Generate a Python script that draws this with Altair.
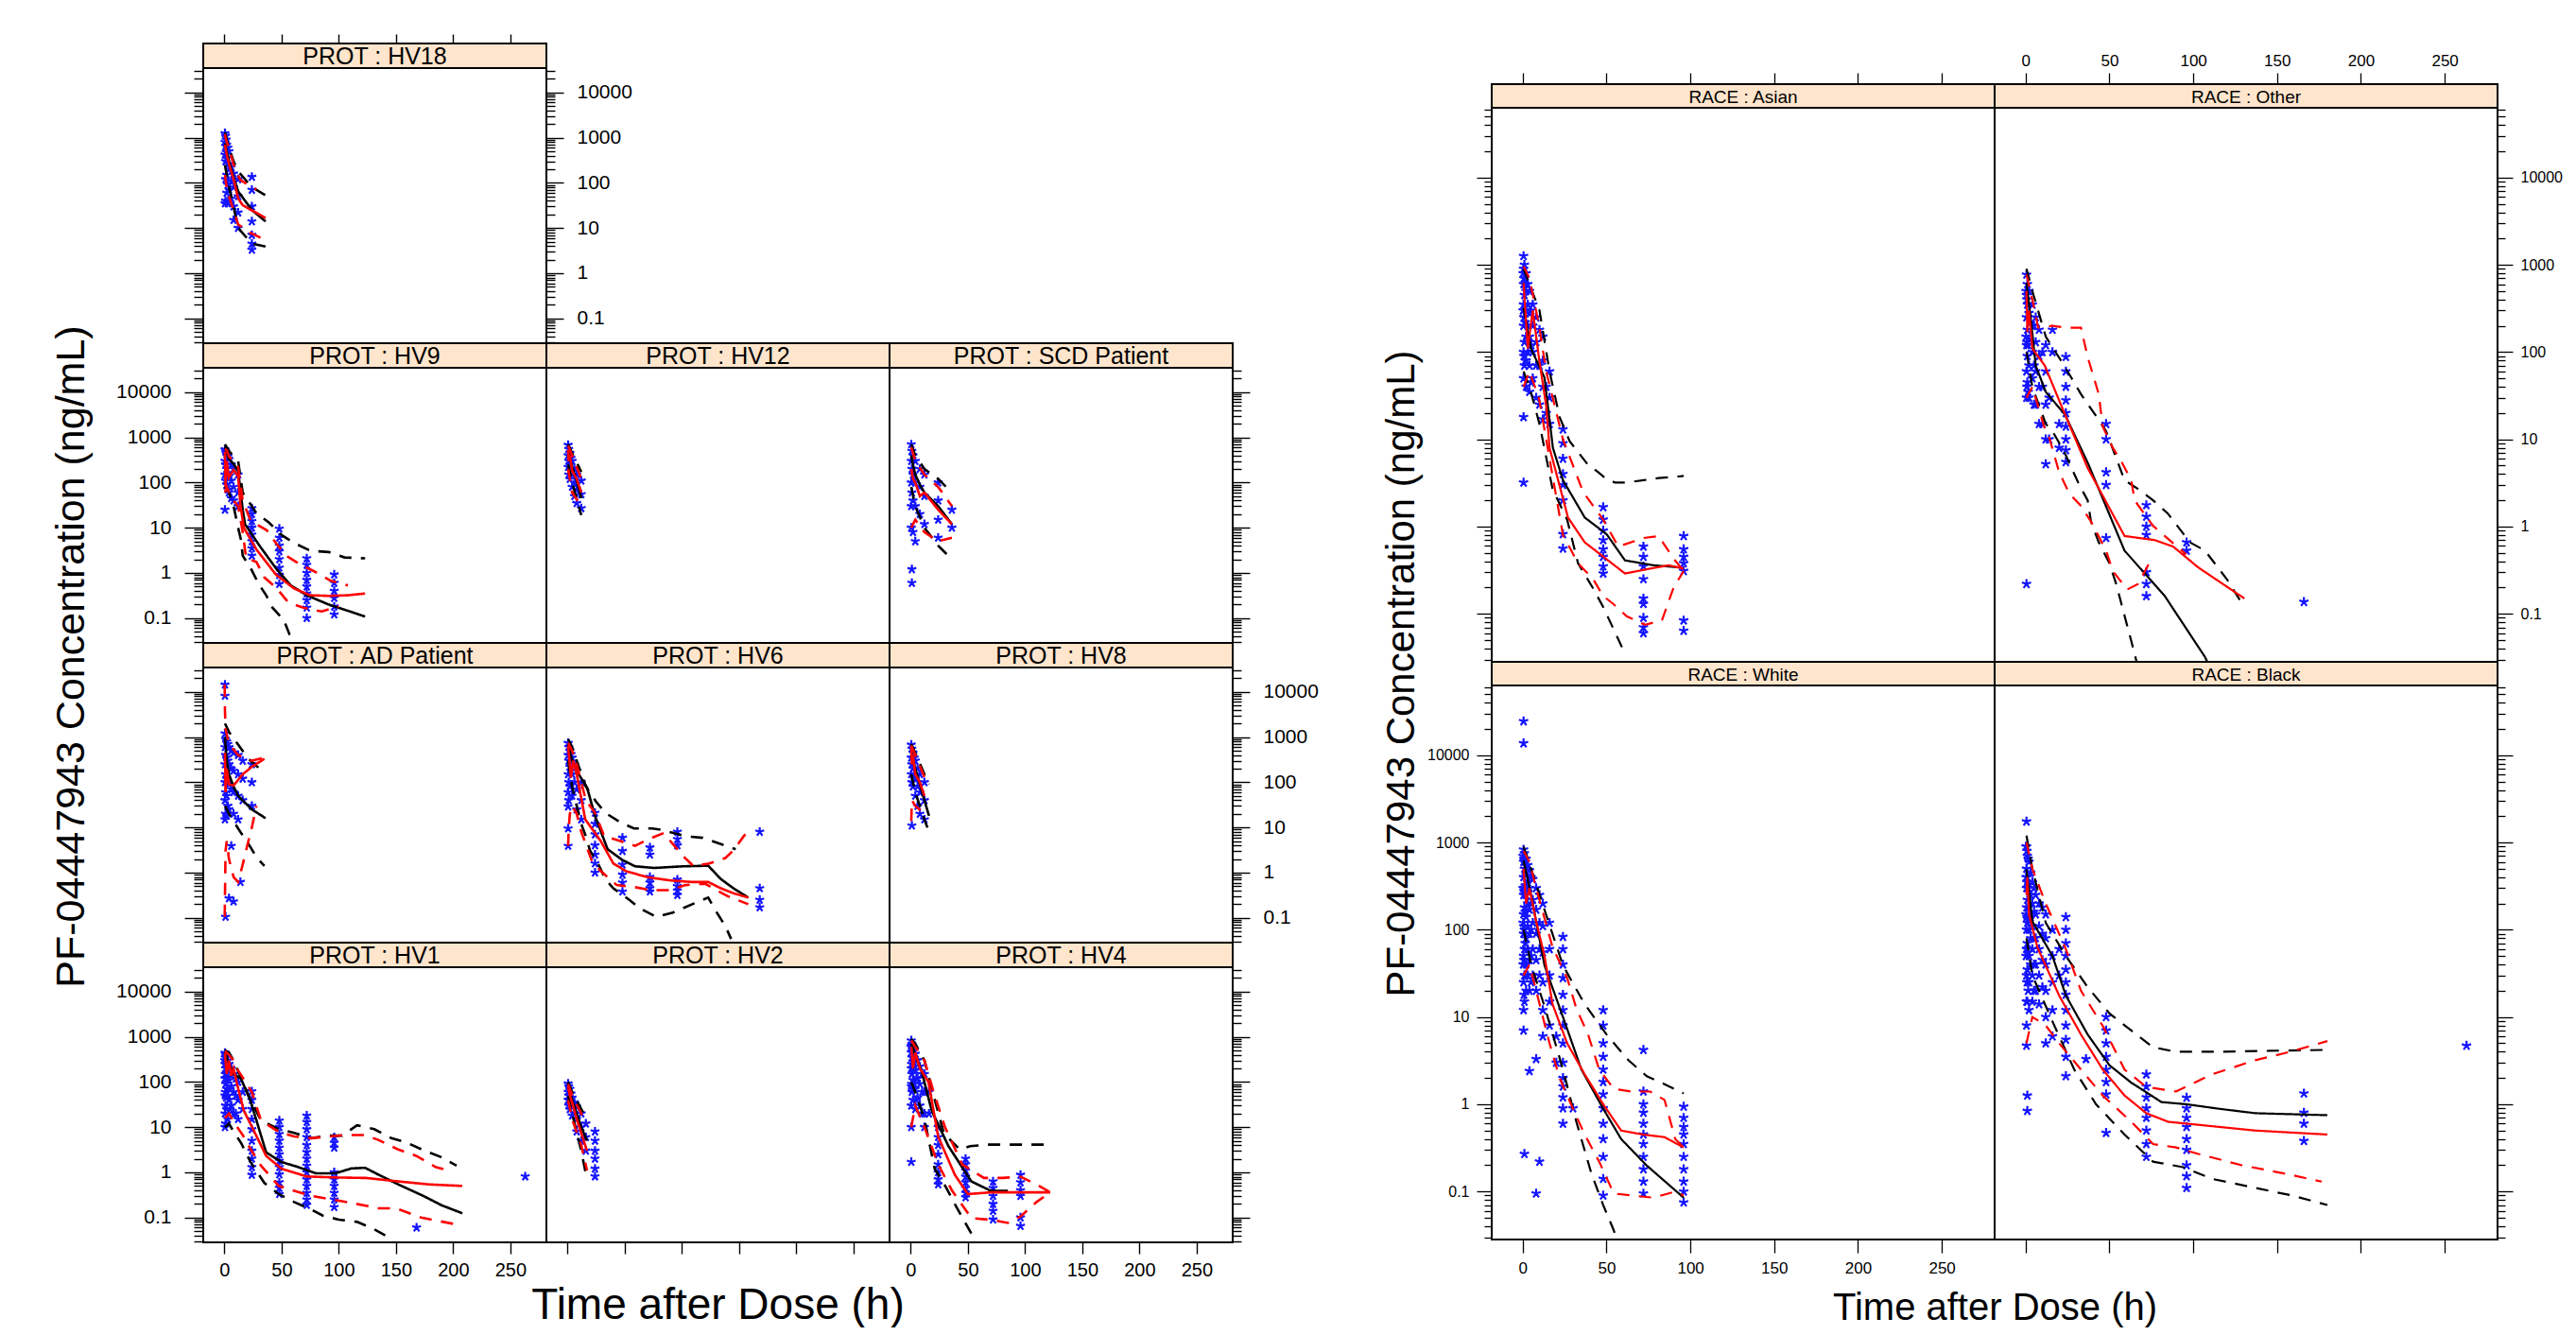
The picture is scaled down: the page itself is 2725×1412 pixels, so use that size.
import altair as alt
import pandas as pd

FONT = "Liberation Sans"
BLUE = "#1414FF"
STRIP_FILL = "#FFE5CC"
STAR = "M0,0L0,-1M0,0L0.95,-0.31M0,0L0.59,0.81M0,0L-0.59,0.81M0,0L-0.95,-0.31"

X_DOMAIN = [-18.5, 281.5]
X_TICKS = [0, 50, 100, 150, 200, 250]
Y_MAJOR = [0.1, 1, 10, 100, 1000, 10000]
Y_DOMAIN_L = [0.0282, 34700]
Y_DOMAIN_R = [0.0282, 63000]
Y_MINOR_L = [0.03, 0.04, 0.05, 0.06, 0.07, 0.08, 0.09,
             0.2, 0.3, 0.4, 0.5, 0.6, 0.7, 0.8, 0.9,
             2, 3, 4, 5, 6, 7, 8, 9,
             20, 30, 40, 50, 60, 70, 80, 90,
             200, 300, 400, 500, 600, 700, 800, 900,
             2000, 3000, 4000, 5000, 6000, 7000, 8000, 9000,
             20000, 30000]
Y_MINOR_R = Y_MINOR_L + [40000, 50000, 60000]

SERIES = ["p05p", "p50p", "p95p", "p05o", "p50o", "p95o"]
SERIES_COLORS = ["black", "black", "black", "#FF0000", "#FF0000", "#FF0000"]

# ---------------- PROT panels ----------------
HV18_OBS = [(0.5,1250),(0.5,800),(0.5,420),(0.5,35),(1,1100),(1,650),(1,300),(1,120),(1,40),(1.5,900),(1.5,480),
            (2,700),(2,350),(2,150),(2,60),(3,600),(3,260),(3,90),(3,35),(4,500),(4,200),(4,70),
            (6,220),(6,110),(6,45),(8,160),(8,80),(8,30),(8,15),(12,120),(12,50),(12,22),(12,10),
            (24,135),(24,70),(24,30),(24,14),(24,7),(24,4.5),(24,3.3)]
HV18_LINES = {
    "p05p": [(0.5,250),(2,150),(4,80),(8,30),(12,10),(24,4.5),(36,3.9)],
    "p50p": [(0.5,750),(2,500),(4,300),(8,130),(12,65),(24,25),(36,14)],
    "p95p": [(0.5,1300),(2,900),(4,600),(8,300),(12,180),(24,80),(36,53)],
    "p05o": [(0.5,150),(1,120),(2,80),(4,50),(8,25),(12,12),(22,8),(36,5.4)],
    "p50o": [(0.5,700),(1,600),(2,420),(4,260),(8,120),(12,45),(16,32),(36,16.7)],
    "p95o": [(0.5,1200),(1,1000),(2,800),(4,600),(8,250),(14,115),(28,71)],
}

HV9_OBS = [(0.5,540),(0.5,300),(0.5,150),(0.5,25),(1,480),(1,250),(1,110),(2,420),(2,200),(2,90),
           (3,380),(3,160),(3,70),(4,330),(4,140),(4,60),(6,250),(6,110),(6,45),(8,200),(8,80),(8,40),
           (12,150),(12,60),(12,30),
           (24,27),(24,20),(24,14),(24,10),(24,7),(24,5),(24,3.5),(24,2.4),
           (48,9.5),(48,6),(48,4),(48,3),(48,2),(48,1.3),(48,0.9),(48,0.57),
           (72,2.1),(72,1.5),(72,1),(72,0.7),(72,0.5),(72,0.35),(72,0.25),(72,0.17),(72,0.1),
           (96,0.92),(96,0.6),(96,0.4),(96,0.28),(96,0.18),(96,0.12)]
HV9_LINES = {
    "p05p": [(0.5,80),(4,60),(8,30),(12,10),(14.5,5.4),(16,2.4),(23,1.27),(30,0.57),(36.5,0.32),(42,0.17),(52,0.09),(57,0.043),(61,0.031)],
    "p50p": [(0.5,620),(2,450),(4,330),(8,260),(12,180),(16,25),(18,12),(31,3.9),(45,1.27),(58,0.53),(72,0.32),(91,0.2),(108,0.145),(123,0.108)],
    "p95p": [(0.5,700),(4,500),(8,380),(12,300),(16,60),(28,21),(39,13),(50,6.9),(61,4.6),(75,3.1),(91,2.9),(105,2.2),(123,2.1)],
    "p05o": [(0.5,60),(2,80),(4,60),(8,40),(12,30),(16,8),(19,2.1),(28,1.75),(35,0.79),(45,0.48),(56,0.22),(69,0.17),(85,0.14),(100,0.18)],
    "p50o": [(0.5,480),(1,80),(2,300),(4,130),(8,190),(12,140),(14,32),(17,10),(28,3.3),(45,0.92),(61,0.45),(75,0.32),(91,0.31),(108,0.32),(123,0.35)],
    "p95o": [(0.5,560),(2,520),(4,380),(8,300),(12,220),(16,40),(23,14),(37,8.8),(45,4.6),(54,2.4),(67,1.5),(78,1.1),(93,0.67),(108,0.53)],
}

HV12_OBS = [(0.5,680),(0.5,400),(0.5,220),(1,550),(1,300),(1,150),(2,450),(2,250),(2,120),(3,350),(3,180),
            (4,300),(4,150),(4,80),(6,200),(6,100),(6,50),(8,150),(8,70),(8,35),(12,110),(12,55),(12,27)]
HV12_LINES = {
    "p05p": [(0.5,250),(4,100),(12,19)],
    "p50p": [(0.5,500),(2,350),(4,220),(8,110),(12,45)],
    "p95p": [(0.5,700),(4,450),(12,172)],
    "p05o": [(0.5,200),(4,60),(12,30)],
    "p50o": [(0.5,530),(1,300),(2,400),(4,180),(8,120),(12,60)],
    "p95o": [(0.5,650),(4,400),(12,120)],
}

SCD_OBS = [(0.5,700),(0.5,300),(0.5,100),(0.5,30),(0.5,10),(1,500),(1,200),(1,60),(1,1.2),(1,0.6),
           (2,400),(2,150),(2,40),(2,8),(4,300),(4,100),(4,30),(4,5),(8,200),(8,80),(8,20),
           (12,150),(12,50),(12,12),(24,100),(24,40),(24,15),(24,6),(36,25),(36,10)]
SCD_LINES = {
    "p05p": [(0.5,80),(4,30),(12,10),(24,4),(36,2)],
    "p50p": [(0.5,400),(2,250),(4,150),(8,90),(12,60),(24,30),(36,12)],
    "p95p": [(0.5,700),(4,400),(12,200),(24,120),(36,60)],
    "p05o": [(0.5,10),(4,15),(12,8),(24,5),(36,6)],
    "p50o": [(0.5,200),(2,120),(4,100),(8,50),(12,60),(24,25),(36,12)],
    "p95o": [(0.5,600),(4,300),(12,150),(24,80),(36,30)],
}

AD_OBS = [(0.5,14500),(0.5,8200),(0.5,1200),(0.5,600),(0.5,250),(0.5,100),(0.5,40),(0.5,15),
          (1,900),(1,400),(1,150),(1,60),(1,20),(1,0.105),(2,800),(2,350),(2,120),(2,50),(2,18),
          (3,700),(3,300),(3,100),(3,30),(4,600),(4,250),(4,90),(4,25),(4,0.27),
          (6,500),(6,200),(6,70),(6,3.9),(8,450),(8,180),(8,60),(8,20),(8,0.23),
          (12,400),(12,150),(12,50),(12,15),(14,0.62),(16,300),(16,120),(16,40),(24,250),(24,100),(24,30)]
AD_LINES = {
    "p05p": [(0.5,30),(4,20),(12,9.5),(23,3.6),(28,2.2),(35,1.4)],
    "p50p": [(0.5,1000),(2,300),(4,150),(8,80),(12,50),(24,25),(36,16)],
    "p95p": [(0.5,2000),(4,1300),(12,680),(21,330),(35,160)],
    "p05o": [(0.25,0.105),(0.5,0.3),(1,3),(2,5),(4,2),(8,0.8),(12,0.62),(16,1.5),(20,4),(24,10),(28,30)],
    "p50o": [(0.5,450),(1,60),(2,200),(4,90),(8,85),(16,150),(24,220),(35,330)],
    "p95o": [(0.25,14500),(0.5,3700),(1,1500),(4,700),(12,400),(24,300),(35,350)],
}

HV6_OBS = [(0.5,740),(0.5,400),(0.5,150),(0.5,60),(0.5,29),(0.5,9.5),(0.5,3.9),(1,600),(1,300),(1,100),(1,40),
           (2,500),(2,220),(2,80),(3,420),(3,180),(4,350),(4,150),(4,50),(6,250),(6,100),(8,180),(8,70),(8,25),
           (12,100),(12,40),(12,15),
           (24,21),(24,12),(24,7),(24,4),(24,2.5),(24,1.6),(24,1),
           (48,5.9),(48,3),(48,1.5),(48,0.9),(48,0.6),(48,0.38),
           (72,3.6),(72,2.5),(72,0.8),(72,0.6),(72,0.45),(72,0.38),
           (96,8),(96,5.5),(96,4),(96,0.7),(96,0.5),(96,0.4),(96,0.32),
           (168,8),(168,0.45),(168,0.25),(168,0.17)]
HV6_LINES = {
    "p05p": [(0.5,300),(4,80),(8,30),(11.4,13),(15.5,6.9),(19.6,3.1),(27.8,1.38),(33,0.72),(40,0.45),(54,0.25),(63.5,0.16),(77.5,0.105),(92,0.13),(109,0.2),(123,0.28),(129,0.15),(138,0.065),(143,0.034)],
    "p50p": [(0.5,680),(4,300),(10,147),(17,77),(24,18),(35,3.3),(48,1.9),(59,1.38),(76,1.27),(101,1.38),(123,1.42),(134,0.72),(145,0.45),(158,0.28)],
    "p95p": [(0.5,900),(4,600),(8,300),(16,80),(25,37),(33,21),(46,13),(58,9.5),(74,9.5),(83,8.8),(103,6.4),(118,5.9),(134,4.3),(147,3.3)],
    "p05o": [(0.5,3.9),(1,9.5),(2,20),(4,30),(8,20),(12,8),(21,1.9),(29,1.08),(43,0.53),(58,0.48),(73,0.41),(90,0.41),(103,0.53),(120,0.57),(140,0.3),(158,0.2)],
    "p50o": [(0.5,630),(3,126),(5,300),(8,150),(15.5,15),(29,5),(40,1.6),(51,1.08),(70,0.79),(90,0.67),(109,0.62),(123,0.62),(134,0.45),(145,0.35),(158,0.28)],
    "p95o": [(0.5,740),(4,500),(8,250),(16,40),(24,21),(32,6.4),(46,5),(59,3.9),(70,5.4),(84,7.5),(92,4.3),(102,2.2),(110,1.4),(124,1.6),(138,2.1),(146,3.3),(154,6.4),(158,8.1)],
}

HV8_OBS = [(0.5,680),(0.5,350),(0.5,150),(1,550),(1,250),(1,100),(1,11),(2,450),(2,200),(2,80),(3,350),(3,150),
           (4,300),(4,120),(4,50),(6,200),(6,80),(6,30),(8,150),(8,60),(8,20),(12,100),(12,40),(12,15)]
HV8_LINES = {
    "p05p": [(0.5,150),(4,60),(12,15),(16,8)],
    "p50p": [(0.5,500),(2,300),(4,200),(8,90),(12,40),(16,18)],
    "p95p": [(0.5,700),(4,450),(12,150),(16,90)],
    "p05o": [(0.5,14),(1,40),(4,30),(12,20)],
    "p50o": [(0.5,630),(1,250),(2,400),(4,150),(8,100),(12,50)],
    "p95o": [(0.5,650),(4,400),(12,130)],
}

HV1_OBS = [(0.5,440),(0.5,250),(0.5,120),(0.5,50),(0.5,20),(0.5,10),(1,400),(1,200),(1,90),(1,30),(1,12),
           (0.25,300),(0.75,350),(0.75,150),(0.75,60),(1.5,280),(1.5,120),(1.5,45),
           (2,350),(2,160),(2,70),(2,25),(3,300),(3,130),(3,50),(3,15),(4,250),(4,110),(4,40),
           (5,180),(5,70),(5,25),(6,200),(6,80),(6,30),(8,150),(8,60),(8,20),(10,120),(10,50),(10,20),
           (12,100),(12,40),(12,15),(16,60),(16,25),
           (24,62),(24,40),(24,25),(24,15),(24,9),(24,5),(24,3),(24,2),(24,1.3),(24,0.88),
           (48,14),(48,10),(48,7),(48,5),(48,3.5),(48,2.5),(48,1.8),(48,1.3),(48,0.9),(48,0.6),(48,0.45),(48,0.33),
           (72,18),(72,13),(72,9),(72,6),(72,4),(72,2.8),(72,2),(72,1.4),(72,1),(72,0.7),(72,0.5),(72,0.35),(72,0.25),(72,0.19),
           (96,6),(96,4.5),(96,3.5),(96,1),(96,0.7),(96,0.5),(96,0.35),(96,0.25),(96,0.17),
           (168,0.06),(263,0.81)]
HV1_LINES = {
    "p05p": [(0.5,10),(4,12),(8,8),(14.5,4.5),(22.8,1.7),(35,0.58),(47.5,0.33),(61,0.22),(76,0.15),(86,0.11),(100,0.09),(116,0.08),(131,0.055),(144,0.036)],
    "p50p": [(0.5,470),(4,250),(8,150),(14.5,118),(23,37),(36.5,2.75),(50,1.69),(64,1.32),(80,0.95),(97,0.95),(111,1.22),(123,1.26),(135,0.88),(152,0.54),(174,0.3),(190,0.186),(208,0.124)],
    "p95p": [(0.5,500),(4,450),(8,300),(14.5,120),(23,40),(32,14),(47.5,9),(61,7.5),(76,5.7),(90,6.5),(103,6.5),(116,11),(131,9),(146,5.7),(160,4.5),(175,3),(189,2.2),(203,1.4)],
    "p05o": [(0.5,16),(4,20),(9,12),(16,6.7),(23,3.2),(32,1.4),(47.5,0.5),(61,0.39),(76,0.3),(91,0.26),(111,0.21),(135,0.16),(150,0.16),(172,0.1),(203,0.07)],
    "p50o": [(0.5,430),(2,150),(4,300),(6,138),(8,200),(12,72),(17,23),(25.5,8.6),(36.5,2.3),(50,1.2),(72,0.81),(97,0.77),(124,0.75),(152,0.63),(179,0.54),(208,0.5)],
    "p95o": [(0.5,480),(4,400),(8,300),(12,180),(24,60),(32,14),(47.5,7.9),(61,6.2),(76,5.7),(91,6.2),(105,6.7),(122,6.7),(134,5.3),(152,3.2),(168,2.3),(185,1.3),(196,1.1)],
}

HV2_OBS = [(0.5,92),(0.5,60),(0.5,40),(1,80),(1,50),(1,30),(2,70),(2,40),(2,25),(3,55),(3,35),(4,45),(4,28),(4,18),
           (6,35),(6,20),(8,28),(8,15),(8,8),(12,20),(12,10),(12,5),(16,12),(16,6),(16,3),
           (24,8),(24,5),(24,3),(24,2),(24,1.2),(24,0.81)]
HV2_LINES = {
    "p05p": [(0.5,50),(4,20),(12,3),(17,0.69)],
    "p50p": [(0.5,92),(2,60),(4,40),(8,20),(12,10),(17,5)],
    "p95p": [(0.5,100),(4,60),(12,25),(17,15)],
    "p05o": [(0.5,40),(4,15),(12,4),(17,1.1)],
    "p50o": [(0.5,78),(2,50),(4,35),(8,15),(12,7.3),(17,3)],
    "p95o": [(0.5,90),(4,50),(12,20),(17,12)],
}

HV4_OBS = [(0.5,830),(0.5,450),(0.5,200),(0.5,80),(0.5,30),(0.5,10),(0.5,1.7),(1,700),(1,350),(1,150),(1,60),
           (0.25,600),(0.75,650),(0.75,250),(0.75,90),(1.5,550),(1.5,200),(1.5,70),
           (2,600),(2,280),(2,110),(2,40),(3,500),(3,220),(3,90),(4,420),(4,180),(4,70),(4,25),
           (5,300),(5,120),(5,40),(6,300),(6,120),(6,45),(8,220),(8,90),(8,30),(10,150),(10,60),(10,20),
           (12,150),(12,60),(12,20),(12,10),(16,60),(16,20),
           (24,10),(24,6),(24,4),(24,2.5),(24,1.5),(24,1),(24,0.7),(24,0.54),
           (48,2),(48,1.5),(48,1.1),(48,0.8),(48,0.6),(48,0.45),(48,0.35),(48,0.28),
           (72,0.63),(72,0.45),(72,0.3),(72,0.2),(72,0.14),(72,0.09),
           (96,0.88),(96,0.6),(96,0.4),(96,0.3),(96,0.1),(96,0.065)]
HV4_LINES = {
    "p05p": [(0.5,100),(4,60),(12,15),(21,1.2),(31,0.46),(40,0.17),(54,0.04)],
    "p50p": [(0.5,710),(4,400),(9.8,163),(18.4,23),(33,3.8),(53,0.63),(70,0.39),(85,0.39)],
    "p95p": [(0.5,900),(4,700),(12,300),(20,50),(29,7.3),(37,4.5),(43,3.2),(52,3.8),(67,4.1),(86,4.1),(122,4.1)],
    "p05o": [(0.5,10),(4,30),(12,10),(24,1.5),(36,0.4),(53,0.097),(70,0.089),(85,0.076),(96,0.105),(110,0.22),(122,0.36)],
    "p50o": [(0.5,600),(2,200),(4,450),(8,200),(15.5,100),(24,6.2),(38.6,0.88),(50,0.33),(70,0.36),(96,0.36),(122,0.36)],
    "p95o": [(0.5,830),(4,600),(12,300),(20,60),(30,10),(45,1.5),(64,0.75),(80,0.75),(96,0.8),(110,0.54),(122,0.36)],
}

# ---------------- RACE panels ----------------
ASIAN_OBS = [(0.5,1260),(0.5,900),(0.5,600),(0.5,350),(0.5,200),(0.5,100),(0.5,50),(0.5,18),(0.5,3.2),
             (0.25,800),(0.25,300),(0.75,700),(0.75,250),(0.75,90),(1.5,600),(1.5,220),(1.5,80),
             (1,1000),(1,700),(1,450),(1,250),(1,130),(1,70),(2,800),(2,500),(2,300),(2,150),(2,80),(2,40),
             (3,600),(3,350),(3,200),(3,100),(4,500),(4,280),(4,150),(4,70),(4,35),
             (5,300),(5,120),(5,45),(6,350),(6,200),(6,100),(6,50),(8,250),(8,130),(8,70),(8,30),
             (10,180),(10,70),(10,25),(12,150),(12,80),(12,40),(12,17),(14,40),(14,20),
             (16,60),(16,30),(16,15),
             (24,13),(24,9),(24,6),(24,4),(24,3),(24,2),(24,0.82),(24,0.56),
             (48,1.67),(48,1.2),(48,0.9),(48,0.7),(48,0.55),(48,0.45),(48,0.35),(48,0.29),
             (72,0.59),(72,0.45),(72,0.35),(72,0.25),(72,0.15),(72,0.13),(72,0.09),(72,0.07),(72,0.06),
             (96,0.78),(96,0.55),(96,0.45),(96,0.38),(96,0.31),(96,0.084),(96,0.064)]
ASIAN_LINES = {
    "p05p": [(0.5,60),(4,40),(10,15),(17.8,2.7),(26.5,1.2),(33,0.38),(41.7,0.2),(48,0.12),(61,0.035)],
    "p50p": [(0.5,320),(5,109),(13,51),(18,8),(24,3.4),(37,1.27),(50,0.82),(61,0.41),(78,0.36),(94,0.34)],
    "p95p": [(0.5,900),(4,600),(10,300),(16,60),(22,18),(28,9.5),(38.6,5.2),(45,4.2),(50,3.5),(55,3.2),(62,3.2),(72,3.4),(81,3.6),(96,3.8)],
    "p05o": [(0.5,40),(4,60),(9.6,30),(14,10),(24,0.8),(33,0.38),(42,0.25),(48,0.16),(54,0.13),(62,0.094),(73,0.075),(83,0.084),(90,0.2),(96,0.31)],
    "p50o": [(0.5,620),(3,109),(6,300),(9.6,88),(14,24),(16,8),(27,1.27),(37,0.66),(61,0.29),(76,0.33),(87,0.36),(96,0.33)],
    "p95o": [(0.5,960),(4,700),(9.6,210),(14,60),(24,10),(36,2.5),(48,1.2),(57,0.59),(72,0.74),(81,0.78),(90,0.43),(96,0.31)],
}

OTHER_OBS = [(0.5,770),(0.5,450),(0.5,250),(0.5,120),(0.5,60),(0.5,30),(0.5,0.22),(1,600),(1,350),(1,180),(1,90),(1,45),
             (0.25,500),(0.25,150),(0.75,400),(0.75,130),(0.75,40),(1.5,350),(1.5,120),(1.5,35),
             (2,500),(2,280),(2,140),(2,70),(2,30),(4,350),(4,200),(4,100),(4,50),
             (5,200),(5,70),(5,25),(6,250),(6,130),(6,60),(6,25),
             (8,180),(8,90),(8,40),(8,15),(10,100),(10,40),(10,15),(12,120),(12,60),(12,25),(12,10),(12,5.2),
             (14,30),(14,10),(16,180),(16,100),(20,8),(20,15),
             (24,88),(24,60),(24,40),(24,28),(24,20),(24,14),(24,10),(24,7.5),(24,5.5),
             (48,15),(48,10),(48,4.2),(48,3),(48,0.74),
             (72,1.76),(72,1.3),(72,1),(72,0.8),(72,0.3),(72,0.22),(72,0.16),
             (96,0.66),(96,0.53),(166,0.137)]
OTHER_LINES = {
    "p05p": [(0.5,100),(4,40),(12,15),(16,12.4),(23,7.2),(32,3),(37,2),(39,1.14),(43.6,0.66),(50,0.38),(54,0.22),(65,0.035),(68,0.02)],
    "p50p": [(0.5,620),(3,250),(6,70),(12,35),(23.6,19),(37.4,5.2),(59,0.53),(83,0.16),(107,0.032),(112,0.02)],
    "p95p": [(0.5,900),(4,500),(12,150),(23,70),(33,33),(41.6,19),(48,12.4),(59,3.4),(67,2.7),(76,2),(84.7,1.42),(98,0.66),(107,0.53),(120,0.25),(130,0.123)],
    "p05o": [(0.5,30),(4,40),(11,14),(14,10.6),(20,4.2),(26,2.4),(32.6,1.76),(39,1.14),(48,0.53),(52,0.31),(60.6,0.19),(67,0.22),(73,0.36),(77,0.4)],
    "p50o": [(0.5,500),(1,170),(2,300),(4,110),(11.4,70),(23.6,19),(37,4.7),(59,0.78),(77,0.7),(88,0.59),(103,0.34),(130.5,0.15)],
    "p95o": [(0.5,770),(4,400),(7.5,190),(16,200),(24,190),(33,190),(37,88),(43.6,33),(46,14),(52,8),(56.6,5.8),(63,3.4),(65,2),(76,1.02),(95.8,0.48)],
}

WHITE_OBS = [(0.5,24500),(0.5,13700),
             (0.5,830),(0.5,600),(0.5,400),(0.5,250),(0.5,150),(0.5,90),(0.5,50),(0.5,25),(0.5,12),(0.5,7),
             (0.25,700),(0.25,300),(0.25,120),(0.25,40),(0.75,650),(0.75,280),(0.75,110),(0.75,45),(0.75,18),
             (1,750),(1,500),(1,300),(1,180),(1,100),(1,60),(1,30),(1,15),(1,0.27),
             (1.5,600),(1.5,320),(1.5,160),(1.5,70),(1.5,30),
             (2,650),(2,420),(2,250),(2,140),(2,80),(2,40),(2,20),(3,550),(3,350),(3,200),(3,110),(3,60),(3,30),
             (4,480),(4,300),(4,170),(4,90),(4,45),(4,20),(4,2.4),(5,400),(5,200),(5,100),(5,50),(5,25),
             (6,380),(6,220),(6,120),(6,60),(6,30),(8,300),(8,170),(8,90),(8,45),(8,20),(8,3.3),(8,0.095),(10,0.22),
             (10,250),(10,120),(10,60),(10,30),(12,200),(12,110),(12,55),(12,25),(12,12),(12,6),
             (16,120),(16,60),(16,30),(16,15),(16,8),(20,6),(20,3),
             (24,83),(24,60),(24,40),(24,28),(24,18),(24,12),(24,8),(24,5),(24,3),(24,2),(24,1.6),(24,1.2),(24,0.9),(24,0.6),
             (30,0.9),
             (48,12),(48,8),(48,5),(48,3.5),(48,2.5),(48,1.8),(48,1.3),(48,0.9),(48,0.6),(48,0.4),(48,0.25),(48,0.14),(48,0.09),
             (72,4.2),(72,1.4),(72,1),(72,0.8),(72,0.6),(72,0.45),(72,0.35),(72,0.25),(72,0.18),(72,0.13),(72,0.095),
             (96,0.94),(96,0.7),(96,0.55),(96,0.45),(96,0.35),(96,0.25),(96,0.18),(96,0.13),(96,0.1),(96,0.075)]
WHITE_LINES = {
    "p05p": [(0.5,100),(5,40),(13.4,12.5),(24,2.5),(32,0.63),(41,0.16),(48,0.07),(54.3,0.036),(57,0.025)],
    "p50p": [(0.5,620),(5,250),(13,39),(24,10),(35,2.5),(48,0.89),(58.7,0.4),(73.8,0.2),(96,0.085)],
    "p95p": [(0.5,900),(5,500),(13.4,160),(24,39),(37,14),(50,6.3),(63,3.2),(74,2.1),(84.6,1.7),(96,1.33)],
    "p05o": [(0.5,30),(4,40),(8,20),(16,5),(22,2),(31,0.8),(37,0.45),(45.6,0.22),(54.3,0.095),(65,0.09),(78,0.085),(91,0.1),(96,0.09)],
    "p50o": [(0.5,500),(2,200),(4,300),(8,125),(13,50),(17.8,14),(26.5,5),(37,2.2),(48,1),(58.7,0.5),(71.7,0.45),(84.6,0.42),(96,0.32)],
    "p95o": [(0.5,800),(4,600),(8,300),(17.8,63),(26.5,28),(32,12.5),(39,6.3),(45.6,2.5),(54.3,1.5),(65,1.4),(76,1.4),(84.6,1.12),(91,0.4),(96,0.32)],
}

BLACK_OBS = [(0.5,1740),(0.5,900),(0.5,500),(0.5,300),(0.5,180),(0.5,100),(0.5,60),(0.5,30),(0.5,15),(0.5,8),(0.5,4.7),
             (0.25,900),(0.25,400),(0.25,150),(0.25,50),(0.75,800),(0.75,350),(0.75,140),(0.75,60),(0.75,25),
             (1,1.26),(1,0.84),(1,700),(1,400),(1,220),(1,120),(1,70),(1,35),(1,15),
             (1.5,650),(1.5,300),(1.5,130),(1.5,55),(1.5,20),
             (2,600),(2,330),(2,180),(2,100),(2,50),(2,25),(2,12),(3,450),(3,250),(3,140),(3,80),(3,40),
             (4,350),(4,200),(4,110),(4,60),(4,30),(4,15),(5,300),(5,160),(5,80),(5,40),(5,20),
             (6,250),(6,150),(6,80),(6,40),(6,20),
             (8,200),(8,110),(8,60),(8,30),(8,14),(10,180),(10,90),(10,45),(10,22),
             (12,150),(12,80),(12,40),(12,20),(12,10),(12,5),(16,100),(16,50),(16,25),(16,12),(16,6),(20,60),(20,30),
             (24,140),(24,100),(24,70),(24,50),(24,35),(24,25),(24,18),(24,12),(24,8),(24,5.5),(24,3.5),(24,2.1),(36,3.3),
             (48,10),(48,7),(48,5),(48,3.5),(48,2.5),(48,1.8),(48,1.3),(48,0.47),
             (72,2.2),(72,1.6),(72,1.2),(72,0.9),(72,0.7),(72,0.5),(72,0.35),(72,0.25),
             (96,1.19),(96,0.9),(96,0.7),(96,0.55),(96,0.4),(96,0.3),(96,0.2),(96,0.15),(96,0.11),
             (166,1.33),(166,0.8),(166,0.6),(166,0.38),(263,4.7)]
BLACK_LINES = {
    "p05p": [(0.5,80),(4,30),(16,8.9),(29,2.5),(42,1),(59,0.45),(76,0.22),(94,0.19),(111,0.14),(137,0.11),(159,0.09),(180,0.07)],
    "p50p": [(0.5,490),(4,125),(16,50),(24,17.6),(37,6.3),(50,2.8),(63,1.77),(81,1.06),(96,1),(115,0.89),(137,0.79),(180,0.75)],
    "p95p": [(0.5,1200),(4,500),(12,120),(24,50),(37,22),(50,11),(63,7),(76,4.5),(89.7,4),(115,4),(146,4.1),(180,4.2)],
    "p05o": [(0.5,5),(4,10),(12,8),(20,5),(33,2.5),(46,1.26),(63,0.63),(76,0.35),(89.7,0.32),(103,0.27),(129,0.2),(155,0.16),(176.6,0.13)],
    "p50o": [(0.5,250),(1,400),(2,150),(7,63),(20,17.6),(33,6.3),(46,2.5),(59,1.26),(72,0.79),(85,0.63),(96,0.6),(137,0.5),(180,0.45)],
    "p95o": [(0.5,1000),(4,500),(12,200),(24,60),(33,20),(46,7.9),(59,2.5),(72,1.58),(89.7,1.4),(111,2.2),(137,3.2),(158,4),(180,5.3)],
}

# ---------------- styles ----------------
LEFT = dict(W=363, H=291, strip=26, ydom=Y_DOMAIN_L, yminor=Y_MINOR_L,
            ymaj=20, ymin=10, ymaj_r=18, ymin_r=9, yfs=21, ypad=14,
            xts=12, xts_top=10, xfs=20, xpad=7, xpad_top=4, tw=1.4, sfs=25,
            lw=2.6, dash=[13, 10], psize=95)
RIGHT = dict(W=532, H=586, strip=25, ydom=Y_DOMAIN_R, yminor=Y_MINOR_R,
             ymaj=16, ymin=8, ymaj_r=16, ymin_r=8, yfs=16, ypad=8,
             xts=14, xts_top=12, xfs=17, xpad=8, xpad_top=4, tw=1.3, sfs=19,
             lw=2.2, dash=[12, 9], psize=105)


def y_axis_pair(side, mode, st, title=None):
    if mode is None:
        return None, None
    maj_len = st["ymaj"] if side == "left" else st["ymaj_r"]
    min_len = st["ymin"] if side == "left" else st["ymin_r"]
    kw = dict(orient=side, values=Y_MAJOR, tickSize=maj_len, tickColor="black", tickWidth=st["tw"],
              domain=False, grid=False, labels=(mode == "labels"), format="~g", labelFont=FONT,
              labelFontSize=st["yfs"], labelColor="black", labelPadding=st["ypad"], labelOverlap=False)
    if title:
        kw.update(title=title["text"], titleX=title["x"], titleY=title["y"], titleFont=FONT,
                  titleFontSize=title["size"], titleFontWeight="normal", titleColor="black",
                  titleAngle=270, titleAlign="center", titleBaseline="middle")
    else:
        kw["title"] = None
    major = alt.Axis(**kw)
    minor = alt.Axis(orient=side, values=st["yminor"], tickSize=min_len, tickColor="black",
                     tickWidth=st["tw"], domain=False, grid=False, labels=False, title=None)
    return major, minor


def x_axis(side, mode, st, title=None):
    if mode is None:
        return None
    top = side == "top"
    kw = dict(orient=side, values=X_TICKS, tickSize=st["xts_top"] if top else st["xts"],
              tickColor="black", tickWidth=st["tw"], domain=False, grid=False,
              labels=(mode == "labels"), format="d", labelFont=FONT, labelFontSize=st["xfs"],
              labelColor="black", labelPadding=st["xpad_top"] if top else st["xpad"],
              offset=st["strip"] if top else 0, labelFlush=False)
    if title:
        kw.update(title=title["text"], titleX=title["x"], titleY=title["y"], titleFont=FONT,
                  titleFontSize=title["size"], titleFontWeight="normal", titleColor="black",
                  titleAlign="center", titleBaseline="alphabetic", titleAngle=0)
    else:
        kw["title"] = None
    return alt.Axis(**kw)


def panel(obs, lines, st, yl=None, yr=None, xb=None, xt=None, ytitle=None, xtitle=None):
    odf = pd.DataFrame(obs, columns=["t", "c"])
    ldf = pd.DataFrame([(s, t, c) for s in SERIES for (t, c) in lines[s]], columns=["s", "t", "c"])
    xs = alt.Scale(domain=X_DOMAIN, nice=False, zero=False)
    ys = alt.Scale(type="log", domain=st["ydom"], nice=False)
    ylmaj, ylmin = y_axis_pair("left", yl, st, ytitle)
    yrmaj, yrmin = y_axis_pair("right", yr, st)
    ghost1 = alt.Chart(odf).mark_point(opacity=0).encode(
        x=alt.X("t:Q", scale=xs, axis=x_axis("top", xt, st)),
        y=alt.Y("c:Q", scale=ys, axis=ylmin))
    ghost2 = alt.Chart(odf).mark_point(opacity=0).encode(
        x=alt.X("t:Q", scale=xs, axis=None),
        y=alt.Y("c:Q", scale=ys, axis=yrmin))
    pts = alt.Chart(odf).mark_point(shape=STAR, filled=False, color=BLUE, size=st["psize"],
                                    strokeWidth=2.2, opacity=1, clip=True).encode(
        x=alt.X("t:Q", scale=xs, axis=x_axis("bottom", xb, st, xtitle)),
        y=alt.Y("c:Q", scale=ys, axis=ylmaj))
    dashes = [st["dash"], [1, 0], st["dash"], st["dash"], [1, 0], st["dash"]]
    lns = alt.Chart(ldf).mark_line(strokeWidth=st["lw"], clip=True).encode(
        x=alt.X("t:Q", scale=xs, axis=None),
        y=alt.Y("c:Q", scale=ys, axis=yrmaj),
        color=alt.Color("s:N", scale=alt.Scale(domain=SERIES, range=SERIES_COLORS), legend=None),
        strokeDash=alt.StrokeDash("s:N", scale=alt.Scale(domain=SERIES, range=dashes), legend=None))
    return alt.layer(ghost1, ghost2, pts, lns).resolve_scale(
        x="independent", y="independent").properties(
        width=st["W"], height=st["H"], view=alt.ViewBackground(stroke="black", strokeWidth=2))


def strip(label, st):
    df = pd.DataFrame({"label": [label]})
    W, H = st["W"], st["strip"]
    rect = alt.Chart(df).mark_rect(fill=STRIP_FILL, stroke="black", strokeWidth=2).encode(
        x=alt.value(0), x2=alt.value(W), y=alt.value(0), y2=alt.value(H))
    txt = alt.Chart(df).mark_text(font=FONT, fontSize=st["sfs"], color="black", align="center",
                                  baseline="middle").encode(
        x=alt.value(W / 2), y=alt.value(H / 2 + 1), text="label:N")
    return alt.layer(rect, txt).properties(width=W, height=H,
                                           view=alt.ViewBackground(stroke="black", strokeWidth=2))


def blank(w, h):
    return alt.Chart(pd.DataFrame({"a": [0]})).mark_point(opacity=0, size=1).encode(
        x=alt.value(1), y=alt.value(1)).properties(width=w, height=h)


def grid(cols, ncols):
    items = []
    for r in range(len(cols[0])):
        for c in cols:
            items.append(c[r])
    return alt.concat(*items, columns=ncols, spacing=0, bounds="flush", align="each")


YT = "PF-04447943 Concentration (ng/mL)"
XT = "Time after Dose (h)"

L, R = LEFT, RIGHT
TOP_L = 38
lc0 = [blank(207, 1) for _ in range(9)]
lc1 = [blank(363, TOP_L),
       strip("PROT : HV18", L), panel(HV18_OBS, HV18_LINES, L, yl="ticks", yr="labels", xt="ticks"),
       strip("PROT : HV9", L), panel(HV9_OBS, HV9_LINES, L, yl="labels",
                                     ytitle=dict(text=YT, x=-140, y=305, size=43)),
       strip("PROT : AD Patient", L), panel(AD_OBS, AD_LINES, L, yl="ticks"),
       strip("PROT : HV1", L), panel(HV1_OBS, HV1_LINES, L, yl="labels", xb="labels")]
lc2 = [blank(363, TOP_L), blank(363, 26), blank(363, 291),
       strip("PROT : HV12", L), panel(HV12_OBS, HV12_LINES, L),
       strip("PROT : HV6", L), panel(HV6_OBS, HV6_LINES, L),
       strip("PROT : HV2", L), panel(HV2_OBS, HV2_LINES, L, xb="ticks",
                                     xtitle=dict(text=XT, x=181, y=80, size=46))]
lc3 = [blank(363, TOP_L), blank(363, 26), blank(363, 291),
       strip("PROT : SCD Patient", L), panel(SCD_OBS, SCD_LINES, L, yr="ticks"),
       strip("PROT : HV8", L), panel(HV8_OBS, HV8_LINES, L, yr="labels"),
       strip("PROT : HV4", L), panel(HV4_OBS, HV4_LINES, L, yr="ticks", xb="labels")]
lc4 = [blank(120, 1) for _ in range(9)]
left = grid([lc0, lc1, lc2, lc3, lc4], 5)

rc0 = [blank(150, 1) for _ in range(5)]
rc1 = [blank(532, 81),
       strip("RACE : Asian", R), panel(ASIAN_OBS, ASIAN_LINES, R, yl="ticks", xt="ticks"),
       strip("RACE : White", R), panel(WHITE_OBS, WHITE_LINES, R, yl="labels", xb="labels",
                                       ytitle=dict(text=YT, x=-96, y=-13, size=42),
                                       xtitle=dict(text=XT, x=532, y=84, size=40))]
rc2 = [blank(532, 81),
       strip("RACE : Other", R), panel(OTHER_OBS, OTHER_LINES, R, yr="labels", xt="labels"),
       strip("RACE : Black", R), panel(BLACK_OBS, BLACK_LINES, R, yr="ticks", xb="ticks")]
right = grid([rc0, rc1, rc2], 3)

chart = alt.hconcat(left, right, spacing=4).properties(
    padding={"left": 0, "top": 0, "right": 0, "bottom": 0}
).configure(font=FONT).configure_view(strokeWidth=0)

chart.save("out.html", embed_options={"renderer": "svg", "actions": False})
